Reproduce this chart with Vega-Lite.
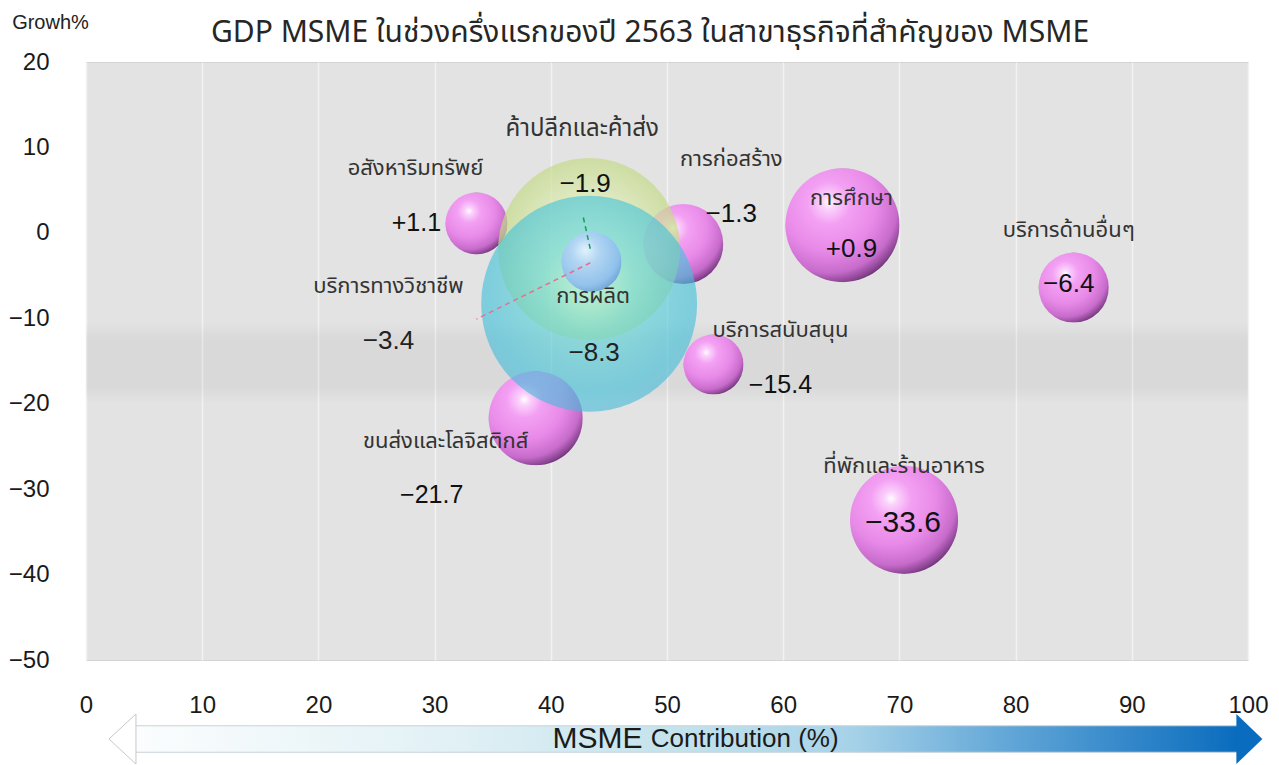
{
  "$schema": "https://vega.github.io/schema/vega-lite/v6.json",
  "autosize": "none",
  "width": 1162,
  "height": 598,
  "padding": {"left": 86, "top": 62, "right": 31, "bottom": 105},
  "background": "#ffffff",
  "title": {
    "text": "GDP MSME ในช่วงครึ่งแรกของปี 2563 ในสาขาธุรกิจที่สำคัญของ MSME",
    "fontSize": 30,
    "fontWeight": "normal",
    "color": "#262626",
    "font": "Noto Sans Thai, Noto Sans, sans-serif",
    "anchor": "middle",
    "frame": "group",
    "baseline": "bottom",
    "offset": -66,
    "dx": -17
  },
  "datasets": {
    "sectors": [
      {"sector": "อสังหาริมทรัพย์", "share": 33.6, "growth": 1.1, "label": "+1.1", "gdp": 9.6},
      {"sector": "ค้าปลีกและค้าส่ง", "share": 43.3, "growth": -1.9, "label": "−1.9", "gdp": 82.8},
      {"sector": "การผลิต", "share": 43.3, "growth": -8.3, "label": "−8.3", "gdp": 116.6},
      {"sector": "บริการทางวิชาชีพ", "share": 43.5, "growth": -3.4, "label": "−3.4", "gdp": 9.0},
      {"sector": "การก่อสร้าง", "share": 51.4, "growth": -1.3, "label": "−1.3", "gdp": 16.0},
      {"sector": "การศึกษา", "share": 65.1, "growth": 0.9, "label": "+0.9", "gdp": 32.5},
      {"sector": "บริการด้านอื่นๆ", "share": 85.0, "growth": -6.4, "label": "−6.4", "gdp": 12.3},
      {"sector": "บริการสนับสนุน", "share": 54.0, "growth": -15.4, "label": "−15.4", "gdp": 9.0},
      {"sector": "ขนส่งและโลจิสติกส์", "share": 38.7, "growth": -21.7, "label": "−21.7", "gdp": 22.1},
      {"sector": "ที่พักและร้านอาหาร", "share": 70.4, "growth": -33.6, "label": "−33.6", "gdp": 29.2}
    ],
    "one": [{"k": 1}]
  },
  "layer": [
    {
      "data": {"name": "one"},
      "mark": {"type": "rect", "fill": {"gradient": "linear", "x1": 0, "y1": 0, "x2": 0, "y2": 1, "stops": [{"offset": 0, "color": "rgba(0,0,0,0.0)"}, {"offset": 0.2, "color": "rgba(0,0,0,0.045)"}, {"offset": 0.8, "color": "rgba(0,0,0,0.045)"}, {"offset": 1, "color": "rgba(0,0,0,0.0)"}]}},
      "encoding": {"y": {"datum": -10.4}, "y2": {"datum": -20}}
    },
    {
      "data": {"name": "sectors"},
      "encoding": {
        "x": {
          "field": "share", "type": "quantitative",
          "scale": {"domain": [0, 100], "nice": false, "zero": false},
          "axis": {"values": [0,10,20,30,40,50,60,70,80,90,100], "title": null, "labelPadding": 33, "format": "d", "labelFlush": false, "labelOverlap": false}
        },
        "y": {
          "field": "growth", "type": "quantitative",
          "scale": {"domain": [-50, 20], "nice": false, "zero": false},
          "axis": {
            "values": [-50,-40,-30,-20,-10,0,10,20],
            "labelPadding": 37,
            "labelFlush": false,
            "title": "Growh%",
            "titleAngle": 0,
            "titleX": -36,
            "titleY": -40,
            "titleAlign": "center",
            "titleBaseline": "middle",
            "titleFontSize": 20,
            "titleFontWeight": "normal",
            "titleColor": "#222222",
            "titleFont": "Liberation Sans",
            "gridColor": {"condition": {"test": "datum.value === 0", "value": "#bdbdbd"}, "value": "#f2f2f2"}
          }
        }
      },
      "layer": [
        {
          "transform": [{"filter": {"field": "sector", "oneOf": ["อสังหาริมทรัพย์", "การก่อสร้าง", "การศึกษา", "บริการด้านอื่นๆ", "บริการสนับสนุน", "ขนส่งและโลจิสติกส์", "ที่พักและร้านอาหาร"]}}],
          "mark": {"type": "circle", "opacity": 1, "fill": {"gradient": "radial", "x1": 0.38, "y1": 0.3, "r1": 0, "x2": 0.38, "y2": 0.32, "r2": 0.75, "stops": [{"offset": 0, "color": "#ffffff"}, {"offset": 0.08, "color": "#fbd2fb"}, {"offset": 0.25, "color": "#f3a0f3"}, {"offset": 0.55, "color": "#e88ae8"}, {"offset": 0.8, "color": "#c86ccc"}, {"offset": 0.92, "color": "#8a4492"}, {"offset": 1, "color": "#4a2050"}]}},
          "encoding": {"size": {"field": "gdp", "type": "quantitative", "scale": {"type": "linear", "domain": [0, 100], "range": [0, 40000]}, "legend": null}}
        },
        {
          "transform": [{"filter": "datum.sector === 'ค้าปลีกและค้าส่ง'"}],
          "mark": {"type": "circle", "opacity": 0.7, "fill": {"gradient": "radial", "x1": 0.5, "y1": 0.5, "r1": 0, "x2": 0.5, "y2": 0.5, "r2": 0.5, "stops": [{"offset": 0, "color": "#f2f8d8"}, {"offset": 0.6, "color": "#dcebb0"}, {"offset": 1, "color": "#c4da88"}]}},
          "encoding": {"size": {"field": "gdp", "type": "quantitative", "scale": {"type": "linear", "domain": [0, 100], "range": [0, 40000]}, "legend": null}}
        },
        {
          "transform": [{"filter": "datum.sector === 'การผลิต'"}],
          "mark": {"type": "circle", "opacity": 0.62, "fill": {"gradient": "radial", "x1": 0.5, "y1": 0.4, "r1": 0, "x2": 0.5, "y2": 0.45, "r2": 0.6, "stops": [{"offset": 0, "color": "#b0f5d4"}, {"offset": 0.35, "color": "#62d8d8"}, {"offset": 0.8, "color": "#40c0da"}, {"offset": 1, "color": "#50b4d6"}]}},
          "encoding": {"size": {"field": "gdp", "type": "quantitative", "scale": {"type": "linear", "domain": [0, 100], "range": [0, 40000]}, "legend": null}}
        },
        {
          "transform": [{"filter": "datum.sector === 'บริการทางวิชาชีพ'"}],
          "mark": {"type": "circle", "opacity": 0.9, "fill": {"gradient": "radial", "x1": 0.4, "y1": 0.3, "r1": 0, "x2": 0.4, "y2": 0.35, "r2": 0.75, "stops": [{"offset": 0, "color": "#e8f4ff"}, {"offset": 0.3, "color": "#b4d4f6"}, {"offset": 0.75, "color": "#8cbcee"}, {"offset": 1, "color": "#5a8cc8"}]}},
          "encoding": {"size": {"field": "gdp", "type": "quantitative", "scale": {"type": "linear", "domain": [0, 100], "range": [0, 40000]}, "legend": null}}
        },
        {"transform": [{"filter": "datum.sector === 'อสังหาริมทรัพย์'"}], "mark": {"type": "text", "dx": -61, "dy": -55, "fontSize": 22, "font": "Noto Sans Thai, Noto Sans, sans-serif", "color": "#333333"}, "encoding": {"text": {"field": "sector"}}},
        {"transform": [{"filter": "datum.sector === 'ค้าปลีกและค้าส่ง'"}], "mark": {"type": "text", "dx": -7, "dy": -120, "fontSize": 24, "font": "Noto Sans Thai, Noto Sans, sans-serif", "color": "#333333"}, "encoding": {"text": {"field": "sector"}}},
        {"transform": [{"filter": "datum.sector === 'การผลิต'"}], "mark": {"type": "text", "dx": 4, "dy": -8, "fontSize": 22, "font": "Noto Sans Thai, Noto Sans, sans-serif", "color": "#333333"}, "encoding": {"text": {"field": "sector"}}},
        {"transform": [{"filter": "datum.sector === 'บริการทางวิชาชีพ'"}], "mark": {"type": "text", "dx": -203, "dy": 24, "fontSize": 22, "font": "Noto Sans Thai, Noto Sans, sans-serif", "color": "#333333"}, "encoding": {"text": {"field": "sector"}}},
        {"transform": [{"filter": "datum.sector === 'การก่อสร้าง'"}], "mark": {"type": "text", "dx": 48, "dy": -85, "fontSize": 22, "font": "Noto Sans Thai, Noto Sans, sans-serif", "color": "#333333"}, "encoding": {"text": {"field": "sector"}}},
        {"transform": [{"filter": "datum.sector === 'การศึกษา'"}], "mark": {"type": "text", "dx": 9, "dy": -27, "fontSize": 22, "font": "Noto Sans Thai, Noto Sans, sans-serif", "color": "#333333"}, "encoding": {"text": {"field": "sector"}}},
        {"transform": [{"filter": "datum.sector === 'บริการด้านอื่นๆ'"}], "mark": {"type": "text", "dx": -5, "dy": -58, "fontSize": 22, "font": "Noto Sans Thai, Noto Sans, sans-serif", "color": "#333333"}, "encoding": {"text": {"field": "sector"}}},
        {"transform": [{"filter": "datum.sector === 'บริการสนับสนุน'"}], "mark": {"type": "text", "dx": 67, "dy": -34, "fontSize": 22, "font": "Noto Sans Thai, Noto Sans, sans-serif", "color": "#333333"}, "encoding": {"text": {"field": "sector"}}},
        {"transform": [{"filter": "datum.sector === 'ขนส่งและโลจิสติกส์'"}], "mark": {"type": "text", "dx": -90, "dy": 23, "fontSize": 22, "font": "Noto Sans Thai, Noto Sans, sans-serif", "color": "#333333"}, "encoding": {"text": {"field": "sector"}}},
        {"transform": [{"filter": "datum.sector === 'ที่พักและร้านอาหาร'"}], "mark": {"type": "text", "dx": 0, "dy": -54, "fontSize": 22, "font": "Noto Sans Thai, Noto Sans, sans-serif", "color": "#333333"}, "encoding": {"text": {"field": "sector"}}},
        {"transform": [{"filter": "datum.sector === 'อสังหาริมทรัพย์'"}], "mark": {"type": "text", "dx": -60, "dy": 0, "fontSize": 25, "font": "Liberation Sans", "color": "#111111"}, "encoding": {"text": {"field": "label"}}},
        {"transform": [{"filter": "datum.sector === 'ค้าปลีกและค้าส่ง'"}], "mark": {"type": "text", "dx": -4, "dy": -65, "fontSize": 26, "font": "Liberation Sans", "color": "#111111"}, "encoding": {"text": {"field": "label"}}},
        {"transform": [{"filter": "datum.sector === 'การผลิต'"}], "mark": {"type": "text", "dx": 5, "dy": 49, "fontSize": 26, "font": "Liberation Sans", "color": "#222222"}, "encoding": {"text": {"field": "label"}}},
        {"transform": [{"filter": "datum.sector === 'บริการทางวิชาชีพ'"}], "mark": {"type": "text", "dx": -203, "dy": 79, "fontSize": 26, "font": "Liberation Sans", "color": "#222222"}, "encoding": {"text": {"field": "label"}}},
        {"transform": [{"filter": "datum.sector === 'การก่อสร้าง'"}], "mark": {"type": "text", "dx": 48, "dy": -30, "fontSize": 26, "font": "Liberation Sans", "color": "#111111"}, "encoding": {"text": {"field": "label"}}},
        {"transform": [{"filter": "datum.sector === 'การศึกษา'"}], "mark": {"type": "text", "dx": 9, "dy": 24, "fontSize": 26, "font": "Liberation Sans", "color": "#111111"}, "encoding": {"text": {"field": "label"}}},
        {"transform": [{"filter": "datum.sector === 'บริการด้านอื่นๆ'"}], "mark": {"type": "text", "dx": -5, "dy": -4, "fontSize": 26, "font": "Liberation Sans", "color": "#111111"}, "encoding": {"text": {"field": "label"}}},
        {"transform": [{"filter": "datum.sector === 'บริการสนับสนุน'"}], "mark": {"type": "text", "dx": 67, "dy": 21, "fontSize": 25, "font": "Liberation Sans", "color": "#111111"}, "encoding": {"text": {"field": "label"}}},
        {"transform": [{"filter": "datum.sector === 'ขนส่งและโลจิสติกส์'"}], "mark": {"type": "text", "dx": -104, "dy": 77, "fontSize": 25, "font": "Liberation Sans", "color": "#111111"}, "encoding": {"text": {"field": "label"}}},
        {"transform": [{"filter": "datum.sector === 'ที่พักและร้านอาหาร'"}], "mark": {"type": "text", "dx": -1, "dy": 3, "fontSize": 30, "font": "Liberation Sans", "color": "#111111"}, "encoding": {"text": {"field": "label"}}}
      ]
    },
    {
      "data": {"name": "one"},
      "mark": {"type": "rule", "strokeDash": [5, 4], "color": "#1a9a5a", "strokeWidth": 1.5},
      "encoding": {"x": {"datum": 42.8}, "y": {"datum": 1.8}, "x2": {"datum": 43.4}, "y2": {"datum": -1.9}}
    },
    {
      "data": {"name": "one"},
      "mark": {"type": "rule", "strokeDash": [5, 4], "color": "#f06a8a", "strokeWidth": 1.5},
      "encoding": {"x": {"datum": 43.4}, "y": {"datum": -3.5}, "x2": {"datum": 33.6}, "y2": {"datum": -10.1}}
    },
    {
      "data": {"name": "one"},
      "mark": {"type": "rect", "stroke": "#c9d2d8", "strokeWidth": 1, "fill": {"gradient": "linear", "x1": 0, "y1": 0, "x2": 1, "y2": 0, "stops": [{"offset": 0, "color": "#fbfdfe"}, {"offset": 0.3, "color": "#e0f0f5"}, {"offset": 0.5, "color": "#c2e2ec"}, {"offset": 0.65, "color": "#a6d2e8"}, {"offset": 0.8, "color": "#5ea4d6"}, {"offset": 1, "color": "#0a6cbe"}]}},
      "encoding": {"x": {"datum": 4.2}, "x2": {"datum": 99.1}, "y": {"datum": -57.7}, "y2": {"datum": -60.8}}
    },
    {
      "data": {"name": "one"},
      "mark": {"type": "point", "shape": "M0,-1L1.04,0L0,1Z", "size": 2500, "filled": true, "fill": "#0a6cbe", "opacity": 1, "strokeWidth": 0},
      "encoding": {"x": {"datum": 99.0}, "y": {"datum": -59.25}}
    },
    {
      "data": {"name": "one"},
      "mark": {"type": "point", "shape": "M0,-1L-1.08,0L0,1Z", "size": 2500, "filled": true, "fill": "#ffffff", "stroke": "#c8c8c8", "strokeWidth": 1, "opacity": 1},
      "encoding": {"x": {"datum": 4.3}, "y": {"datum": -59.25}}
    },
    {
      "data": {"name": "one"},
      "mark": {"type": "text", "text": "MSME", "align": "right", "fontSize": 30, "fontWeight": 500, "font": "Liberation Sans", "color": "#1a1a1a"},
      "encoding": {"x": {"datum": 47.9}, "y": {"datum": -59.3}}
    },
    {
      "data": {"name": "one"},
      "mark": {"type": "text", "text": "Contribution (%)", "align": "left", "fontSize": 26, "font": "Liberation Sans", "color": "#1a1a1a"},
      "encoding": {"x": {"datum": 48.6}, "y": {"datum": -59.3}}
    }
  ],
  "config": {
    "view": {"fill": "#e3e3e3", "stroke": "#d4d4d4"},
    "axis": {
      "domain": false,
      "ticks": false,
      "tickSize": 0,
      "labelFont": "Liberation Sans",
      "labelFontSize": 24,
      "labelColor": "#1a1a1a",
      "gridColor": "#f2f2f2",
      "gridWidth": 1.5
    }
  }
}
